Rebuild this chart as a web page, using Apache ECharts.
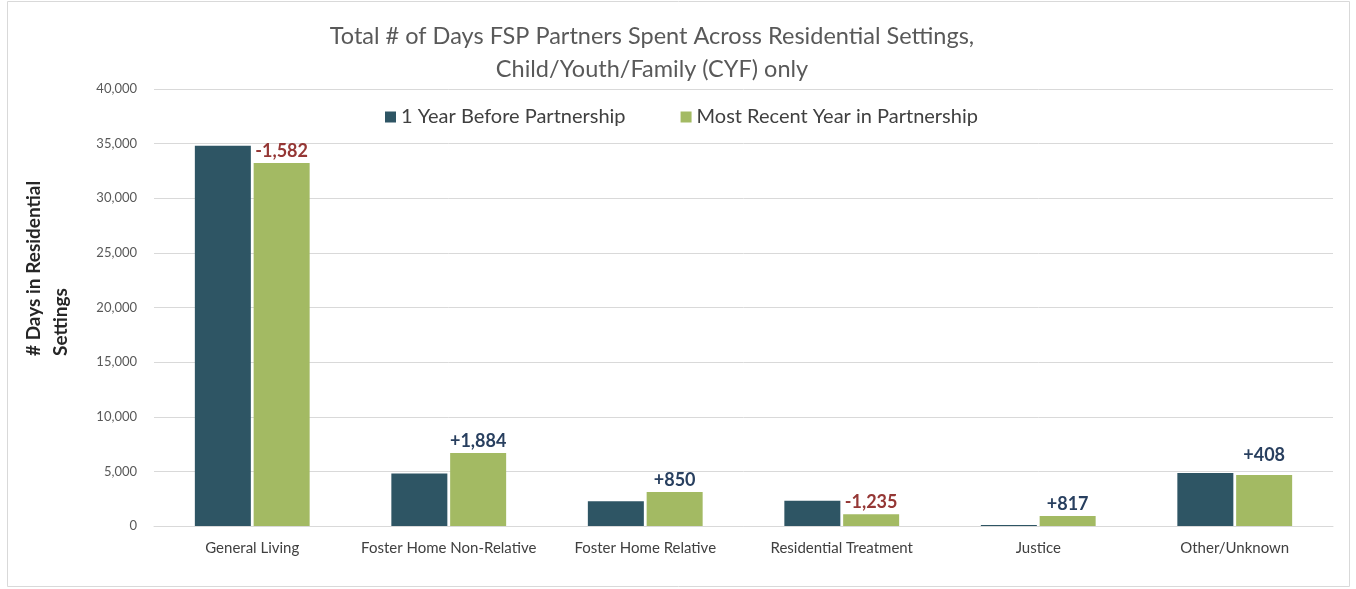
<!DOCTYPE html>
<html>
<head>
<meta charset="utf-8">
<script src="https://cdn.jsdelivr.net/npm/echarts@6/dist/echarts.min.js"></script>
<style>
  html, body { margin: 0; padding: 0; background: #fff; }
  #chart { width: 1356px; height: 589px; }
</style>
</head>
<body>
<div id="chart"></div>
<script>
// categories and values
const categories = ['General Living', 'Foster Home Non-Relative', 'Foster Home Relative', 'Residential Treatment', 'Justice', 'Other/Unknown']
const beforeDays = [34800, 4800, 2270, 2320, 100, 4850]
const recentDays = [33218, 6684, 3120, 1085, 917, 4670]
const changeLabels = ['-1,582', '+1,884', '+850', '-1,235', '+817', '+408']
const yTicks = [0, 5000, 10000, 15000, 20000, 25000, 30000, 35000, 40000]

const chart = echarts.init(document.getElementById('chart'))

const option = {
  animation: false,
  textStyle: { fontFamily: 'Lato, Open Sans, sans-serif' },
  graphic: [
    {
      type: 'rect',
      shape: { x: 7.5, y: 1.5, width: 1342, height: 585 },
      style: { fill: 'none', stroke: '#d9d9d9', lineWidth: 1 },
      silent: true
    },
    {
      // y axis title, start-aligned like the original
      type: 'text',
      x: 47,
      y: 356,
      rotation: Math.PI / 2,
      style: {
        text: '# Days in Residential\nSettings',
        font: 'bold 19px Lato, sans-serif',
        fill: '#262626',
        align: 'left',
        verticalAlign: 'middle',
        lineHeight: 27
      },
      silent: true
    }
  ],
  title: {
    text: 'Total # of Days FSP Partners Spent Across Residential Settings,\nChild/Youth/Family (CYF) only',
    left: 647,
    textAlign: 'center',
    top: 15,
    textStyle: { fontSize: 23.5, fontWeight: 'normal', color: '#595959', lineHeight: 33, fontFamily: 'Lato, sans-serif' }
  },
  legend: {
    top: 102,
    left: 380,
    itemWidth: 11,
    itemHeight: 11,
    itemGap: 55,
    icon: 'rect',
    textStyle: { fontSize: 20, color: '#404040', fontFamily: 'Lato, sans-serif' },
    data: ['1 Year Before Partnership', 'Most Recent Year in Partnership']
  },
  grid: { left: 154, right: 23, top: 89, bottom: 63 },
  xAxis: {
    type: 'category',
    data: categories,
    axisTick: { show: false },
    axisLine: { lineStyle: { color: '#d9d9d9' } },
    axisLabel: { fontSize: 15, color: '#404040', margin: 15, interval: 0 }
  },
  yAxis: {
    type: 'value',
    min: yTicks[0],
    max: yTicks[yTicks.length - 1],
    interval: 5000,
    axisLine: { show: false },
    axisTick: { show: false },
    splitLine: { lineStyle: { color: '#d9d9d9' } },
    axisLabel: {
      fontSize: 13,
      color: '#595959',
      margin: 17,
      formatter: v => v.toLocaleString('en-US')
    }
  },
  series: [
    {
      name: '1 Year Before Partnership',
      type: 'bar',
      data: beforeDays,
      barWidth: 56,
      barGap: '5%',
      itemStyle: { color: '#2e5564' }
    },
    {
      name: 'Most Recent Year in Partnership',
      type: 'bar',
      data: recentDays.map((v, i) => ({
        value: v,
        label: {
          color: changeLabels[i].startsWith('-') ? '#953735' : '#283f5f',
          distance: i === 5 ? 11 : 3
        }
      })),
      barWidth: 56,
      itemStyle: { color: '#a3ba63' },
      label: {
        show: true,
        position: 'top',
        fontSize: 18,
        fontWeight: 'bold',
        formatter: p => changeLabels[p.dataIndex]
      }
    }
  ]
}

chart.setOption(option)
</script>
</body>
</html>
